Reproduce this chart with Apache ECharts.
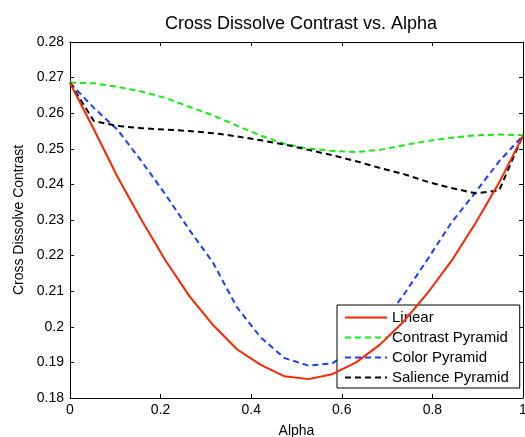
<!DOCTYPE html>
<html><head><meta charset="utf-8">
<script src="https://cdn.jsdelivr.net/npm/echarts@6/dist/echarts.min.js"></script>
<style>html,body{margin:0;padding:0;background:#fff;overflow:hidden}#c{width:525px;height:437px}</style>
</head><body><div id="c"></div>
<script>
const alpha = [0, 0.0526, 0.1053, 0.1579, 0.2105, 0.2632, 0.3158, 0.3684, 0.4211, 0.4737, 0.5263, 0.5789, 0.6316, 0.6842, 0.7368, 0.7895, 0.8421, 0.8947, 0.9474, 1];
const linear = [0.2685, 0.2555, 0.2420, 0.2300, 0.2187, 0.2087, 0.2005, 0.1937, 0.1893, 0.1861, 0.1853, 0.1867, 0.1900, 0.1950, 0.2015, 0.2095, 0.2185, 0.2290, 0.2405, 0.2537];
const contrastPyramid = [0.2686, 0.2684, 0.2674, 0.2661, 0.2643, 0.2618, 0.2594, 0.2565, 0.2537, 0.2514, 0.2501, 0.2494, 0.2491, 0.2497, 0.2510, 0.2522, 0.2531, 0.2538, 0.2540, 0.2538];
const colorPyramid = [0.2685, 0.2615, 0.2553, 0.2465, 0.2372, 0.2273, 0.2180, 0.2055, 0.1970, 0.1912, 0.1891, 0.1897, 0.1940, 0.2000, 0.2090, 0.2190, 0.2293, 0.2377, 0.2465, 0.2537];
const saliencePyramid = [0.2686, 0.2578, 0.2564, 0.2558, 0.2554, 0.2550, 0.2544, 0.2535, 0.2524, 0.2512, 0.2497, 0.2482, 0.2465, 0.2446, 0.2429, 0.2407, 0.2390, 0.2375, 0.2383, 0.2538];
const seriesNames = ['Linear', 'Contrast Pyramid', 'Color Pyramid', 'Salience Pyramid'];

const font = 'Liberation Sans, Arial, Helvetica, sans-serif';
const pair = arr => arr.map((v, i) => [alpha[i], v]);
const fmtY = v => String(parseFloat(v.toFixed(2)));
const axisLine = {show: true, onZero: false, lineStyle: {color: '#000', width: 1}};
const tick = {show: true, inside: true, length: 4, lineStyle: {color: '#000'}};

const chart = echarts.init(document.getElementById('c'), null, {renderer: 'canvas', width: 525, height: 437});
chart.setOption({
  animation: false,
  backgroundColor: '#fff',
  title: {
    text: 'Cross Dissolve Contrast vs. Alpha',
    left: 296, top: 10, textAlign: 'center',
    textStyle: {fontFamily: font, fontSize: 18, fontWeight: 'normal', color: '#000'}
  },
  grid: {left: 70, right: 2, top: 42, bottom: 39, containLabel: false, outerBoundsMode: 'none'},
  xAxis: [{
    type: 'value', min: 0, max: 1, interval: 0.2, position: 'bottom',
    name: 'Alpha', nameLocation: 'middle', nameGap: 26,
    nameTextStyle: {fontFamily: font, fontSize: 14, color: '#000'},
    axisLine: axisLine, axisTick: tick, splitLine: {show: false},
    axisLabel: {fontFamily: font, fontSize: 14, color: '#000', margin: 5, formatter: v => String(parseFloat(v.toFixed(1)))}
  }, {
    type: 'value', min: 0, max: 1, interval: 0.2, position: 'top',
    axisLine: axisLine, axisTick: tick, splitLine: {show: false}, axisLabel: {show: false}
  }],
  yAxis: [{
    type: 'value', min: 0.18, max: 0.28, interval: 0.01, position: 'left',
    name: 'Cross Dissolve Contrast', nameLocation: 'middle', nameGap: 41, nameRotate: 90,
    nameTextStyle: {fontFamily: font, fontSize: 14, color: '#000'},
    axisLine: axisLine, axisTick: tick, splitLine: {show: false},
    axisLabel: {fontFamily: font, fontSize: 14, color: '#000', margin: 6, formatter: fmtY}
  }, {
    type: 'value', min: 0.18, max: 0.28, interval: 0.01, position: 'right',
    axisLine: axisLine, axisTick: tick, splitLine: {show: false}, axisLabel: {show: false}
  }],
  legend: {
    show: true, orient: 'vertical', left: 337, top: 305,
    data: seriesNames,
    backgroundColor: '#fff', borderColor: '#000', borderWidth: 1,
    padding: [5, 11, 3, 7], itemGap: 5, itemWidth: 42, itemHeight: 14,
    itemStyle: {opacity: 0},
    textStyle: {fontFamily: font, fontSize: 15, color: '#000'}
  },
  series: [
    {name: seriesNames[0], type: 'line', data: pair(linear), symbol: 'none', z: 4,
     lineStyle: {color: '#ff2400', width: 2, type: 'solid'}, itemStyle: {color: '#ff2400'}},
    {name: seriesNames[1], type: 'line', data: pair(contrastPyramid), symbol: 'none', z: 3,
     lineStyle: {color: '#11ee11', width: 2, type: [6, 4]}, itemStyle: {color: '#11ee11'}},
    {name: seriesNames[2], type: 'line', data: pair(colorPyramid), symbol: 'none', z: 3,
     lineStyle: {color: '#1a3cff', width: 2, type: [6, 4]}, itemStyle: {color: '#1a3cff'}},
    {name: seriesNames[3], type: 'line', data: pair(saliencePyramid), symbol: 'none', z: 3,
     lineStyle: {color: '#000', width: 2, type: [6, 4]}, itemStyle: {color: '#000'}}
  ]
});
</script></body></html>
